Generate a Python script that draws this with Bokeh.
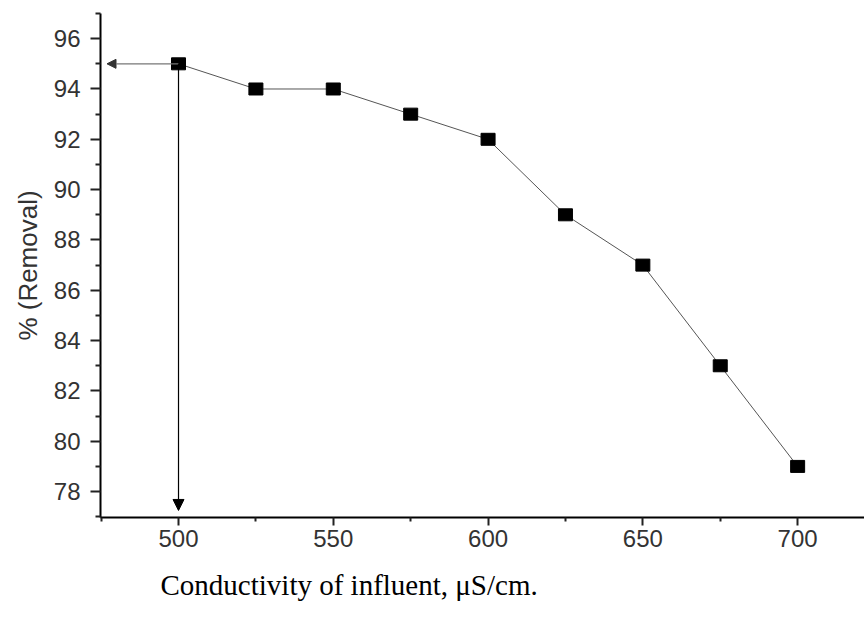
from bokeh.plotting import figure
from bokeh.models import Range1d, Arrow, NormalHead, Title, ColumnDataSource, FixedTicker
from bokeh.embed import file_html
from bokeh.resources import INLINE

conductivity = [500, 525, 550, 575, 600, 625, 650, 675, 700]
removal = [95, 94, 94, 93, 92, 89, 87, 83, 79]
x_ticks = [500, 550, 600, 650, 700]
y_ticks = [78, 80, 82, 84, 86, 88, 90, 92, 94, 96]
optimum_x = 500
optimum_y = 95

p = figure(width=864, height=618, output_backend="svg", toolbar_location=None,
           x_range=Range1d(474.8, 721.6), y_range=Range1d(76.97, 97.0),
           min_border_left=100, min_border_right=0, min_border_top=13, min_border_bottom=101)
p.outline_line_color = None
p.grid.visible = False
p.background_fill_color = "white"
p.border_fill_color = "white"

src = ColumnDataSource(dict(x=conductivity, y=removal))
p.line("x", "y", source=src, line_color="#555555", line_width=1)

# arrows
p.add_layout(Arrow(end=NormalHead(size=9, fill_color="#333333", line_color="#333333"),
                   x_start=optimum_x, y_start=optimum_y, x_end=476.9, y_end=optimum_y,
                   line_color="#777777", line_width=1.2))
p.add_layout(Arrow(end=NormalHead(size=11, fill_color="black", line_color="black"),
                   x_start=optimum_x, y_start=optimum_y, x_end=optimum_x, y_end=77.25,
                   line_color="black", line_width=1.2))

p.rect("x", "y", source=src, width=14, height=12, width_units="screen", height_units="screen",
       fill_color="black", line_color="black")

for ax in (p.xaxis, p.yaxis):
    ax.axis_line_color = "black"
    ax.axis_line_width = 2
    ax.major_tick_line_color = "#222222"
    ax.minor_tick_line_color = "#222222"
    ax.major_tick_line_width = 2
    ax.minor_tick_line_width = 2
    ax.major_tick_in = 0
    ax.minor_tick_in = 0
    ax.major_label_text_font = "Liberation Sans"
    ax.major_label_text_font_size = "24px"
    ax.major_label_text_color = "#333333"

p.xaxis.ticker = FixedTicker(ticks=x_ticks, minor_ticks=[475, 525, 575, 625, 675, 725])
p.yaxis.ticker = FixedTicker(ticks=y_ticks, minor_ticks=[77, 79, 81, 83, 85, 87, 89, 91, 93, 95, 97])
p.xaxis.major_tick_out = 8
p.xaxis.minor_tick_out = 4
p.yaxis.major_tick_out = 10
p.yaxis.minor_tick_out = 5
p.xaxis.major_label_standoff = 4
p.yaxis.major_label_standoff = 10

p.yaxis.axis_label = "% (Removal)"
p.yaxis.axis_label_text_font = "Liberation Sans"
p.yaxis.axis_label_text_font_size = "26px"
p.yaxis.axis_label_text_font_style = "normal"
p.yaxis.axis_label_text_color = "#333333"
p.yaxis.axis_label_standoff = 8

title = Title(text="Conductivity of influent, \u03bcS/cm.", align="left", offset=60,
              text_font="Liberation Serif", text_font_size="29px",
              text_font_style="normal", text_color="black", standoff=34)
p.add_layout(title, "below")

open("out.html", "w").write(file_html(p, INLINE))
